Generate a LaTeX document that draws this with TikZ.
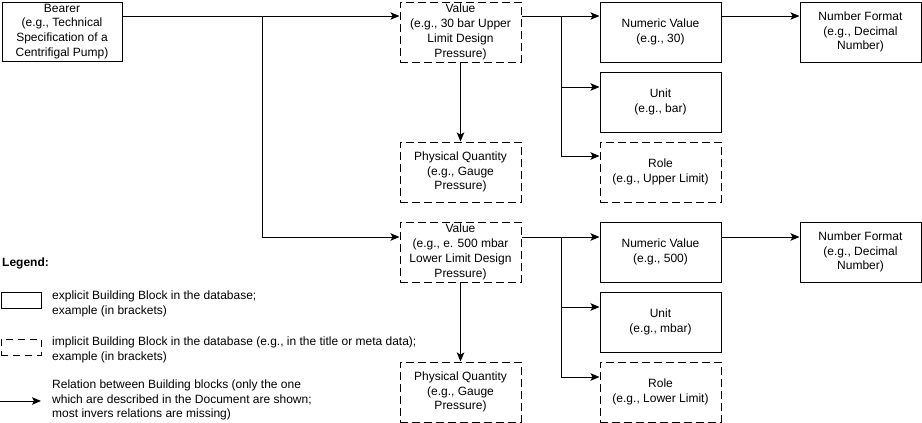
\documentclass[tikz,border=0pt]{standalone}
\usepackage{fontspec}
\setmainfont{Liberation Sans}
\usetikzlibrary{arrows.meta}
\begin{document}
\begin{tikzpicture}[x=1pt,y=-1pt,
  every node/.style={font=\fontsize{12}{14.8}\selectfont, inner sep=0pt},
  blk/.style={draw, line width=1pt, minimum width=121pt, minimum height=60pt, align=center},
  sblk/.style={blk},
  dblk/.style={blk, dash pattern=on 8pt off 4pt},
  arr/.style={line width=1pt, -{Stealth[length=9pt,width=7.5pt,inset=2pt]}},
  ln/.style={line width=1pt}]
\useasboundingbox (0,0) rectangle (922,423);
% main boxes
\node[sblk, minimum width=120pt, minimum height=59pt] (bearer) at (62,31.5) {Bearer\\(e.g., Technical\\Specification of a\\Centrifigal Pump)};
\node[dblk] (value1) at (460.5,32) {Value\\(e.g., 30 bar Upper\\Limit Design\\Pressure)};
\node[dblk] (pq1) at (460.5,172) {Physical Quantity\\(e.g., Gauge\\Pressure)};
\node[dblk] (value2) at (460.5,252) {Value\\(e.g., e. 500 mbar\\Lower Limit Design\\Pressure)};
\node[dblk] (pq2) at (460.5,392) {Physical Quantity\\(e.g., Gauge\\Pressure)};
\node[sblk] (num1) at (660.5,32) {Numeric Value\\(e.g., 30)};
\node[sblk] (unit1) at (660.5,102) {Unit\\(e.g., bar)};
\node[dblk] (role1) at (660.5,172) {Role\\(e.g., Upper Limit)};
\node[sblk] (fmt1) at (860.5,32) {Number Format\\(e.g., Decimal\\Number)};
\node[sblk] (num2) at (660.5,252) {Numeric Value\\(e.g., 500)};
\node[sblk] (unit2) at (660.5,322) {Unit\\(e.g., mbar)};
\node[dblk] (role2) at (660.5,392) {Role\\(e.g., Lower Limit)};
\node[sblk] (fmt2) at (860.5,252) {Number Format\\(e.g., Decimal\\Number)};
% junctions
\coordinate (jb) at (262,16);
\coordinate (j1) at (561,16);
\coordinate (j2) at (561,237);
% connectors
\draw[arr] ([yshift=15.5pt]bearer.east) -- ([yshift=16pt]value1.west);
\draw[arr] (jb) |- ([yshift=15pt]value2.west);
\draw[arr] (value1) -- (pq1);
\draw[arr] (value2) -- (pq2);
\draw[ln] ([yshift=16pt]value1.east) -- (j1);
\draw[arr] (j1) -- ([yshift=16pt]num1.west);
\draw[arr] (j1) |- ([yshift=15pt]unit1.west);
\draw[arr] (j1) |- ([yshift=16pt]role1.west);
\draw[arr] ([yshift=16pt]num1.east) -- ([yshift=16pt]fmt1.west);
\draw[ln] ([yshift=15pt]value2.east) -- (j2);
\draw[arr] (j2) -- ([yshift=15pt]num2.west);
\draw[arr] (j2) |- ([yshift=15pt]unit2.west);
\draw[arr] (j2) |- ([yshift=15pt]role2.west);
\draw[arr] ([yshift=15pt]num2.east) -- ([yshift=15pt]fmt2.west);
% legend
\node[anchor=west, font=\fontsize{12}{14.8}\selectfont\bfseries] (leg) at (2,263) {Legend:};
\node[draw, line width=1pt, minimum width=40pt, minimum height=16pt] (ls) at (21,300) {};
\node[anchor=west, align=left] (lst) at (52,303.5) {explicit Building Block in the database;\\example (in brackets)};
\node[draw, line width=1pt, dash pattern=on 7pt off 5pt, minimum width=40pt, minimum height=16pt] (ld) at (21,347) {};
\node[anchor=west, align=left] (ldt) at (52,350) {implicit Building Block in the database (e.g., in the title or meta data);\\example (in brackets)};
\coordinate (la0) at (0,401);
\coordinate (la1) at (41,401);
\node[anchor=west, align=left] (lat) at (52,400) {Relation between Building blocks (only the one\\which are described in the Document are shown;\\most invers relations are missing)};
\draw[arr] (la0) -- (la1);
\end{tikzpicture}
\end{document}
